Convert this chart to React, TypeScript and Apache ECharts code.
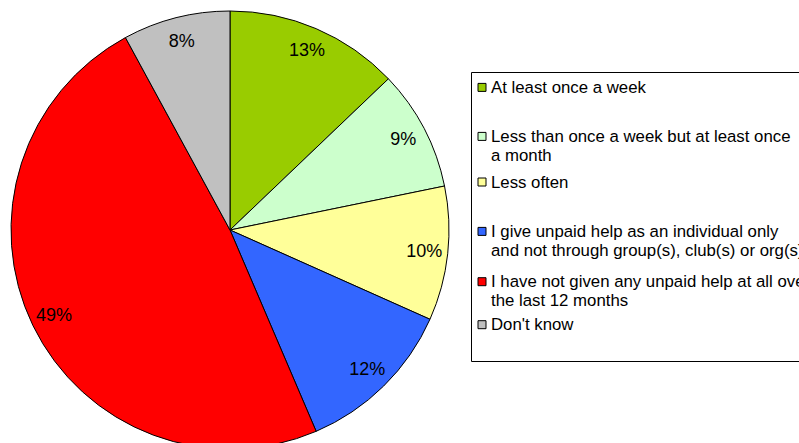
import React, { useEffect, useRef } from "react";
import * as echarts from "echarts";

const categories = [
  "At least once a week",
  "Less than once a week but at least once\na month",
  "Less often",
  "I give unpaid help as an individual only\nand not through group(s), club(s) or org(s)",
  "I have not given any unpaid help at all over\nthe last 12 months",
  "Don't know",
];
const values = [13, 9, 10, 12, 49, 8];
const colors = ["#99CC00", "#CCFFCC", "#FFFF99", "#3366FF", "#FF0000", "#C0C0C0"];

// layout: centre of first text line of each legend entry
const legendLineCenters = [87.4, 136.4, 182, 231.4, 281.7, 324.7];

const FONT = "'Liberation Sans', Arial, Helvetica, sans-serif";
const LH = 19;

export default function App() {
  const ref = useRef<HTMLDivElement>(null);
  useEffect(() => {
    if (!ref.current) return;
    const chart = echarts.init(ref.current, undefined, { renderer: "svg" });
    const data = values.map((v, i) => ({
      name: categories[i],
      value: v,
      itemStyle: { color: colors[i] },
    }));
    const legends = categories.map((c, i) => {
      const twoLines = c.includes("\n");
      const top = twoLines ? legendLineCenters[i] - 1.5 * LH : legendLineCenters[i] - LH / 2;
      return {
        data: [c],
        orient: "vertical",
        left: 477.5,
        top,
        padding: 0,
        itemWidth: 8,
        itemHeight: 8,
        icon: "rect",
        selectedMode: false,
        formatter: (name: string) => (name.includes("\n") ? "\n" + name : name),
        itemStyle: { borderColor: "#000", borderWidth: 1 },
        textStyle: {
          fontFamily: FONT,
          fontSize: 16.8,
          color: "#000",
          lineHeight: LH,
        },
      };
    });
    chart.setOption({
      animation: false,
      backgroundColor: "#fff",
      legend: legends,
      graphic: [
        {
          type: "rect",
          shape: { x: 471.5, y: 72.5, width: 400, height: 289 },
          style: { fill: "none", stroke: "#000", lineWidth: 1 },
          silent: true,
        },
      ],
      series: [
        {
          type: "pie",
          center: [230, 230],
          radius: 219,
          startAngle: 90,
          clockwise: true,
          silent: true,
          data,
          itemStyle: { borderColor: "#000", borderWidth: 1 },
          label: { show: false },
          labelLine: { show: false },
          emphasis: { disabled: true },
        },
        {
          type: "pie",
          center: [230, 230],
          radius: [166, 219],
          startAngle: 90,
          clockwise: true,
          silent: true,
          legendHoverLink: false,
          data: values.map((v, i) => ({ name: categories[i], value: v })),
          itemStyle: { color: "rgba(0,0,0,0)", borderWidth: 0 },
          label: {
            show: true,
            position: "inside",
            formatter: "{c}%",
            fontFamily: FONT,
            fontSize: 18,
            color: "#000",
          },
          labelLine: { show: false },
          emphasis: { disabled: true },
        },
      ],
    });
    return () => chart.dispose();
  }, []);
  return (
    <div
      ref={ref}
      style={{ position: "absolute", left: 0, top: 0, width: 799, height: 443 }}
    />
  );
}
